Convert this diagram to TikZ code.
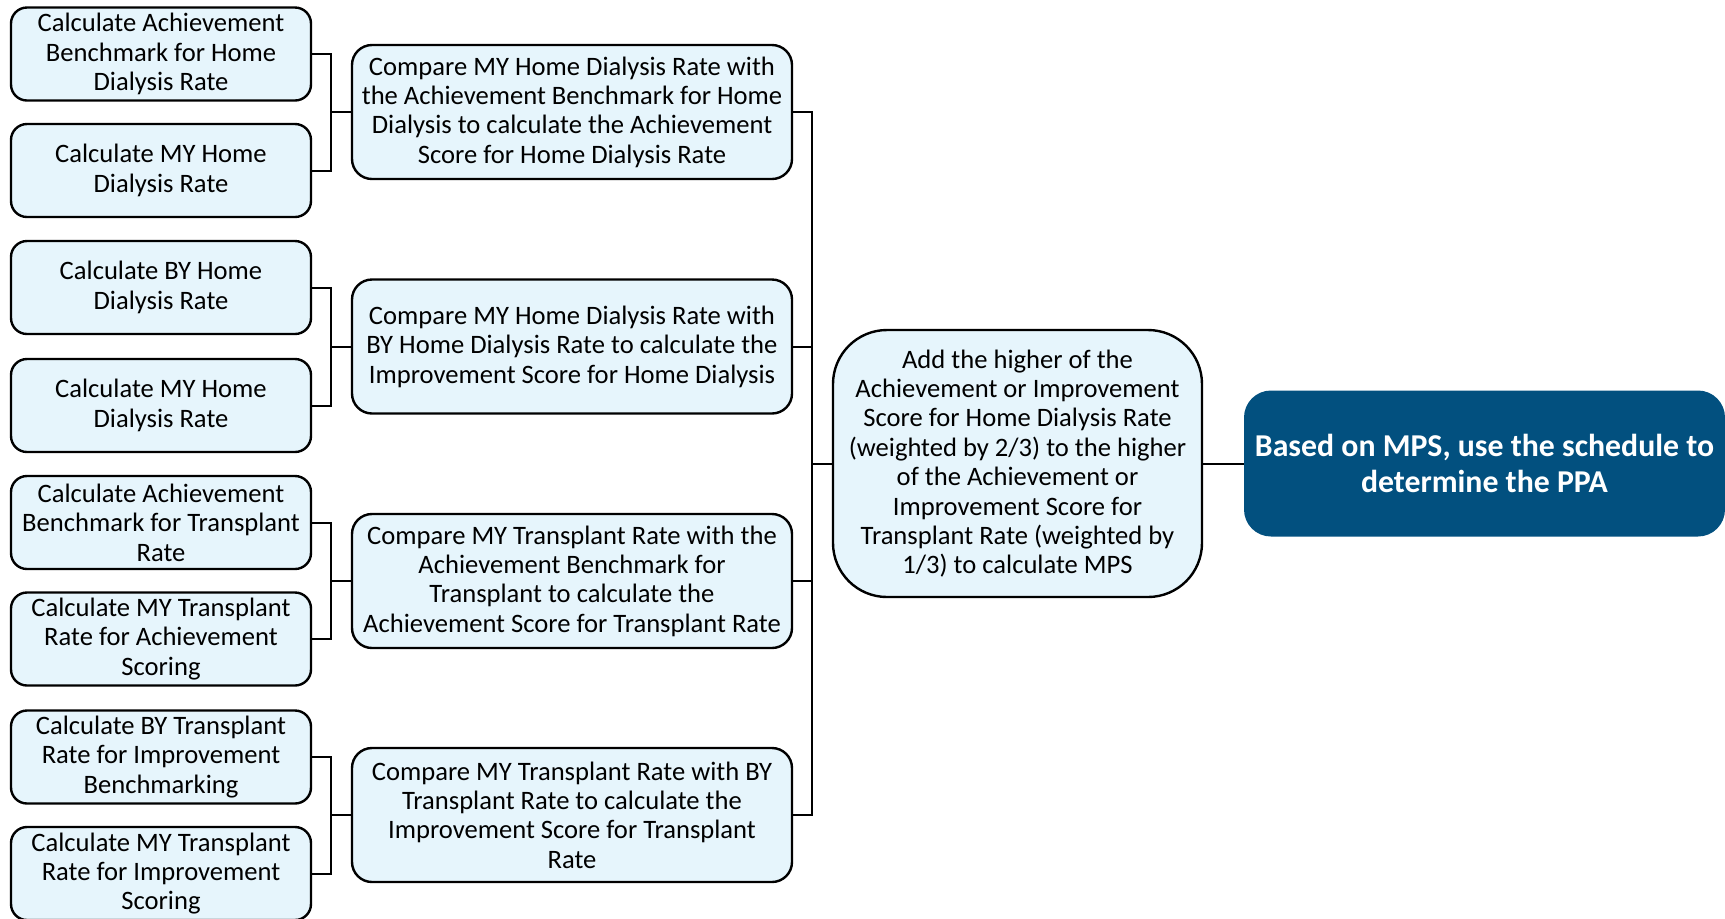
\documentclass[tikz,border=0pt]{standalone}
\usepackage{fontspec}
\setmainfont{Carlito}
\definecolor{lightfill}{RGB}{230,245,252}
\definecolor{darkfill}{RGB}{2,80,127}
\tikzset{
  base/.style={draw=black, line width=1.2pt, fill=lightfill, align=center, inner sep=0pt,
    font=\fontsize{13.3}{14.7}\selectfont},
  leafbox/.style={base, rounded corners=8pt, minimum width=150pt, minimum height=46.5pt},
  midbox/.style={base, rounded corners=10pt, minimum width=220pt, minimum height=67pt},
  sumbox/.style={base, rounded corners=27pt, minimum width=184.5pt, minimum height=133.5pt},
  finalbox/.style={draw=darkfill, line width=1pt, fill=darkfill, text=white, align=center, inner sep=0pt,
    rounded corners=13pt, minimum width=239.5pt, minimum height=72pt,
    font=\fontsize{15.9}{17.6}\selectfont\bfseries},
  link/.style={draw=black, line width=1pt}
}
\begin{document}
\begin{tikzpicture}[x=0.5pt, y=-0.5pt]
\useasboundingbox (0,0) rectangle (1725,918);
% left column
\node[leafbox] (a1) at (161,54) {Calculate Achievement\\Benchmark for Home\\Dialysis Rate};
\node[leafbox] (a2) at (161,170.5) {Calculate MY Home\\Dialysis Rate};
\node[leafbox] (b1) at (161,287.5) {Calculate BY Home\\Dialysis Rate};
\node[leafbox] (b2) at (161,405.5) {Calculate MY Home\\Dialysis Rate};
\node[leafbox] (c1) at (161,522.5) {Calculate Achievement\\Benchmark for Transplant\\Rate};
\node[leafbox] (c2) at (161,639) {Calculate MY Transplant\\Rate for Achievement\\Scoring};
\node[leafbox] (d1) at (161,757) {Calculate BY Transplant\\Rate for Improvement\\Benchmarking};
\node[leafbox] (d2) at (161,873.5) {Calculate MY Transplant\\Rate for Improvement\\Scoring};
% middle column
\node[midbox] (m1) at (572,112) {Compare MY Home Dialysis Rate with\\the Achievement Benchmark for Home\\Dialysis to calculate the Achievement\\Score for Home Dialysis Rate};
\node[midbox] (m2) at (572,346.5) {Compare MY Home Dialysis Rate with\\BY Home Dialysis Rate to calculate the\\Improvement Score for Home Dialysis};
\node[midbox] (m3) at (572,581) {Compare MY Transplant Rate with the\\Achievement Benchmark for\\Transplant to calculate the\\Achievement Score for Transplant Rate};
\node[midbox] (m4) at (572,815) {Compare MY Transplant Rate with BY\\Transplant Rate to calculate the\\Improvement Score for Transplant\\Rate};
% sum and final
\node[sumbox] (s) at (1017.5,463.5) {Add the higher of the\\Achievement or Improvement\\Score for Home Dialysis Rate\\(weighted by 2/3) to the higher\\of the Achievement or\\Improvement Score for\\Transplant Rate (weighted by\\1/3) to calculate MPS};
\node[finalbox] (f) at (1484.5,463.5) {Based on MPS, use the schedule to\\determine the PPA};
% junctions
\coordinate (j1) at (331,112);
\coordinate (j2) at (331,346.5);
\coordinate (j3) at (331,581);
\coordinate (j4) at (331,815);
\coordinate (jb) at (812,463.5);
\draw[link] (a1.east) -| (j1) |- (a2.east);
\draw[link] (j1) -- (m1.west);
\draw[link] (b1.east) -| (j2) |- (b2.east);
\draw[link] (j2) -- (m2.west);
\draw[link] (c1.east) -| (j3) |- (c2.east);
\draw[link] (j3) -- (m3.west);
\draw[link] (d1.east) -| (j4) |- (d2.east);
\draw[link] (j4) -- (m4.west);
\draw[link] (m1.east) -| (jb) |- (m4.east);
\draw[link] (m2.east) -- (m2.east -| jb);
\draw[link] (m3.east) -- (m3.east -| jb);
\draw[link] (jb) -- (s.west);
\draw[link] (s.east) -- (f.west);
\end{tikzpicture}
\end{document}
